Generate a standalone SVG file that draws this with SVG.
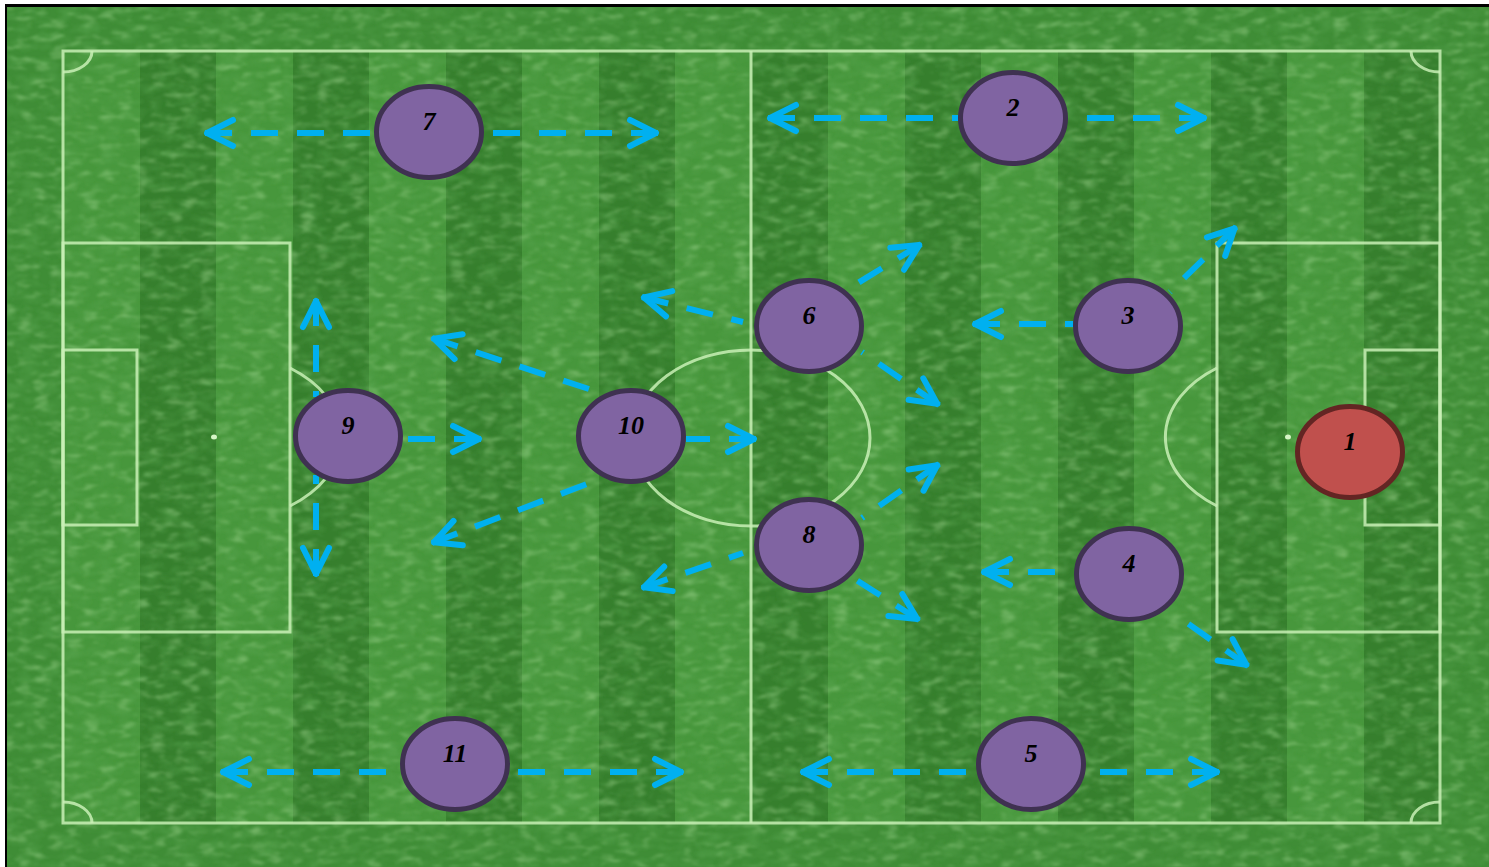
<svg xmlns="http://www.w3.org/2000/svg" width="1489" height="867" viewBox="0 0 1489 867">
<style>
.pl{fill:none;stroke:#c9f0b6;stroke-opacity:0.85;stroke-width:3}
.ar{stroke:#00b0f0;stroke-width:6;stroke-dasharray:27 19;fill:none;marker-start:url(#ah)}
.nd{fill:#8064a2;stroke:#3f3151;stroke-width:5}
.gk{fill:#c0504d;stroke:#632523;stroke-width:5}
.lb{font-family:"Liberation Serif","DejaVu Serif",serif;font-weight:bold;font-style:italic;font-size:26px;fill:#000;text-anchor:middle}
.dk{fill:#367f2d}
</style>
<defs>
<marker id="ah" markerUnits="userSpaceOnUse" markerWidth="60" markerHeight="60" viewBox="-40 -30 60 60" refX="0" refY="0" orient="auto-start-reverse" overflow="visible">
<path d="M-28,-13 L-2,0 L-28,13" fill="none" stroke="#00b0f0" stroke-width="6" stroke-linecap="round" stroke-linejoin="round"/>
</marker>
<filter id="grain" x="0" y="0" width="100%" height="100%">
<feTurbulence type="fractalNoise" baseFrequency="0.05 0.12" numOctaves="3" seed="4" result="n"/>
<feColorMatrix in="n" type="matrix" values="0 0 0 0 0.10  0 0 0 0 0.38  0 0 0 0 0.08  1.3 0 0 0 -0.55" result="c"/>
<feGaussianBlur in="c" stdDeviation="0.8"/>
</filter>
<filter id="grain2" x="0" y="0" width="100%" height="100%">
<feTurbulence type="fractalNoise" baseFrequency="0.06 0.14" numOctaves="2" seed="9" result="n"/>
<feColorMatrix in="n" type="matrix" values="0 0 0 0 0.42  0 0 0 0 0.74  0 0 0 0 0.33  1.2 0 0 0 -0.62" result="c"/>
<feGaussianBlur in="c" stdDeviation="0.8"/>
</filter>
</defs>
<rect x="0" y="0" width="1489" height="867" fill="#ffffff"/>
<rect x="5" y="4" width="1490" height="870" fill="#000000"/>
<g id="pitch">
<rect x="7" y="7" width="1482" height="860" fill="#3f8d36"/>
<rect x="63" y="51" width="1377" height="772" fill="#47973c"/>
<rect class="dk" x="140" y="51" width="76" height="772"/>
<rect class="dk" x="293" y="51" width="76" height="772"/>
<rect class="dk" x="446" y="51" width="76" height="772"/>
<rect class="dk" x="599" y="51" width="76" height="772"/>
<rect class="dk" x="752" y="51" width="76" height="772"/>
<rect class="dk" x="905" y="51" width="76" height="772"/>
<rect class="dk" x="1058" y="51" width="76" height="772"/>
<rect class="dk" x="1211" y="51" width="76" height="772"/>
<rect class="dk" x="1364" y="51" width="76" height="772"/>
<rect x="7" y="7" width="1482" height="860" filter="url(#grain)"/>
<rect x="7" y="7" width="1482" height="860" filter="url(#grain2)"/>
<rect class="pl" x="63" y="51" width="1377" height="772"/>
<line class="pl" x1="751" y1="51" x2="751" y2="823"/>
<ellipse class="pl" cx="751" cy="438" rx="119" ry="88"/>
<rect class="pl" x="63" y="243" width="227" height="389"/>
<rect class="pl" x="63" y="350" width="74" height="175"/>
<rect class="pl" x="1217" y="243" width="223" height="389"/>
<rect class="pl" x="1365" y="350" width="75" height="175"/>
<path class="pl" d="M290,368 A128,86 0 0 1 290,506"/>
<path class="pl" d="M1217,368 A128,86 0 0 0 1217,506"/>
<path class="pl" d="M92,51 A29,21 0 0 1 63,72"/>
<path class="pl" d="M63,802 A29,21 0 0 1 92,823"/>
<path class="pl" d="M1411,51 A29,21 0 0 0 1440,72"/>
<path class="pl" d="M1440,802 A29,21 0 0 0 1411,823"/>
<ellipse cx="214" cy="437" rx="3" ry="2.5" fill="#d6f5c6"/>
<ellipse cx="1288" cy="437" rx="3" ry="2.5" fill="#d6f5c6"/>
</g>
<g id="connectors">
<line class="ar" x1="205" y1="133" x2="376" y2="133"/>
<line class="ar" x1="658" y1="133" x2="484" y2="133"/>
<line class="ar" x1="768" y1="118" x2="958" y2="118"/>
<line class="ar" x1="1206" y1="118" x2="1068" y2="118"/>
<line class="ar" x1="642" y1="297" x2="743" y2="322"/>
<line class="ar" x1="921" y1="244" x2="845" y2="291"/>
<line class="ar" x1="939" y1="405" x2="862" y2="352"/>
<line class="ar" x1="973" y1="324" x2="1073" y2="324"/>
<line class="ar" x1="1236" y1="227" x2="1170" y2="292"/>
<line class="ar" x1="316" y1="299" x2="316" y2="397"/>
<line class="ar" x1="316" y1="576" x2="316" y2="475"/>
<line class="ar" x1="481" y1="439" x2="404" y2="439"/>
<line class="ar" x1="432" y1="338" x2="592" y2="390"/>
<line class="ar" x1="756" y1="439" x2="686" y2="439"/>
<line class="ar" x1="432" y1="543" x2="592" y2="482"/>
<line class="ar" x1="939" y1="464" x2="862" y2="518"/>
<line class="ar" x1="642" y1="588" x2="743" y2="553"/>
<line class="ar" x1="919" y1="620" x2="853" y2="578"/>
<line class="ar" x1="982" y1="572" x2="1074" y2="572"/>
<line class="ar" x1="1248" y1="666" x2="1183" y2="620"/>
<line class="ar" x1="221" y1="772" x2="400" y2="772"/>
<line class="ar" x1="683" y1="772" x2="510" y2="772"/>
<line class="ar" x1="801" y1="772" x2="976" y2="772"/>
<line class="ar" x1="1219" y1="772" x2="1086" y2="772"/>
</g>
<g id="n1"><ellipse class="gk" cx="1350" cy="452" rx="52.5" ry="45.5"/><text class="lb" x="1350" y="450">1</text></g>
<g id="n2"><ellipse class="nd" cx="1013" cy="118" rx="52.5" ry="45.5"/><text class="lb" x="1013" y="116">2</text></g>
<g id="n3"><ellipse class="nd" cx="1128" cy="326" rx="52.5" ry="45.5"/><text class="lb" x="1128" y="324">3</text></g>
<g id="n4"><ellipse class="nd" cx="1129" cy="574" rx="52.5" ry="45.5"/><text class="lb" x="1129" y="572">4</text></g>
<g id="n5"><ellipse class="nd" cx="1031" cy="764" rx="52.5" ry="45.5"/><text class="lb" x="1031" y="762">5</text></g>
<g id="n6"><ellipse class="nd" cx="809" cy="326" rx="52.5" ry="45.5"/><text class="lb" x="809" y="324">6</text></g>
<g id="n7"><ellipse class="nd" cx="429" cy="132" rx="52.5" ry="45.5"/><text class="lb" x="429" y="130">7</text></g>
<g id="n8"><ellipse class="nd" cx="809" cy="545" rx="52.5" ry="45.5"/><text class="lb" x="809" y="543">8</text></g>
<g id="n9"><ellipse class="nd" cx="348" cy="436" rx="52.5" ry="45.5"/><text class="lb" x="348" y="434">9</text></g>
<g id="n10"><ellipse class="nd" cx="631" cy="436" rx="52.5" ry="45.5"/><text class="lb" x="631" y="434">10</text></g>
<g id="n11"><ellipse class="nd" cx="455" cy="764" rx="52.5" ry="45.5"/><text class="lb" x="455" y="762">11</text></g>
</svg>
